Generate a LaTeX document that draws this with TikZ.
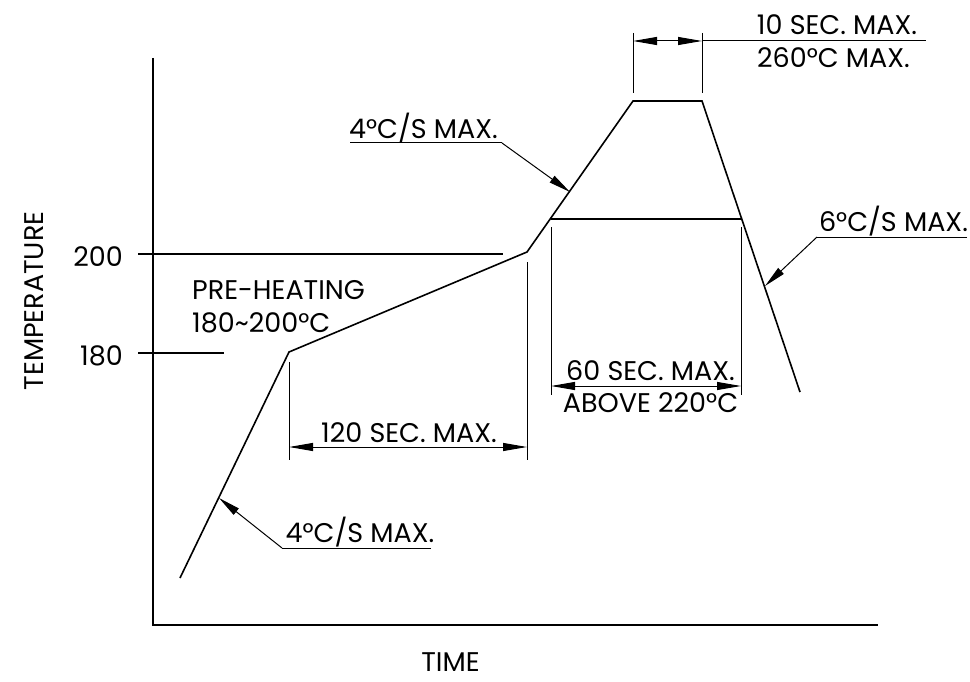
\documentclass[tikz,border=0pt]{standalone}
\usepackage{fontspec}
\setmainfont{Poppins}
\usetikzlibrary{arrows.meta}

\tikzset{
  curve/.style={line width=1.6pt, line join=miter},
  dim/.style={line width=1pt},
  dimarrow/.style={line width=1pt, {Triangle[length=24pt,width=8pt]}-{Triangle[length=24pt,width=8pt]}},
  leader/.style={line width=1pt, -{Triangle[length=22pt,width=8pt]}},
  lbl/.style={font=\fontsize{27}{27}\selectfont, inner sep=0pt, anchor=base},
}

\begin{document}
\begin{tikzpicture}[x=1pt, y=-1pt]
\useasboundingbox (0,0) rectangle (970,682);

% axes
\coordinate (o) at (153,625);
\coordinate (ytop) at (153,58);
\coordinate (xend) at (878,625);
\draw [line width=2pt] (ytop) -- (o) -- (xend);
\node [lbl] (time) at (450.5,671) {TIME};
\node [lbl, rotate=90] (temp) at (43,301) {TEMPERATURE};

% ticks
\coordinate (t200a) at (138,254);
\coordinate (t200b) at (503,254);
\coordinate (t180a) at (138,353);
\coordinate (t180b) at (224,353);
\draw [curve] (t200a) -- (t200b);
\draw [curve] (t180a) -- (t180b);
\node [lbl, anchor=base east] (l200) at (123,266) {200};
\node [lbl, anchor=base east] (l180) at (123,365) {180};

% profile
\coordinate (p0) at (180,578);
\coordinate (p1) at (289,352);
\coordinate (p2) at (527,252);
\coordinate (p3) at (551,219);
\coordinate (p4) at (633,101);
\coordinate (p5) at (702,101);
\coordinate (p6) at (741,219);
\coordinate (p7) at (800,392);
\draw [curve] (p0) -- (p1) -- (p2) -- (p4) -- (p5) -- (p7);
\draw [curve] (p3) -- (p6);

\node [lbl, anchor=base west] (pre) at (192,299) {PRE-HEATING};
\node [lbl, anchor=base west] (prerange) at (192,332) {180\textasciitilde 200°C};

% 120 sec
\draw [dim] (289,362) coordinate (d1a) -- (289,460);
\draw [dim] (527,262) coordinate (d1b) -- (527,460);
\draw [dimarrow] (289,447) coordinate (a1) -- (527,447) coordinate (b1);
\node [lbl] (sec120) at (409,442) {120 SEC. MAX.};

% 60 sec
\draw [dim] (551,227) -- (551,395);
\draw [dim] (741,227) -- (741,395);
\draw [dimarrow] (551,386) coordinate (a2) -- (741,386) coordinate (b2);
\node [lbl] (sec60) at (650.5,380) {60 SEC. MAX.};
\node [lbl] (above) at (650.5,412) {ABOVE 220°C};

% 10 sec
\draw [dim] (633,33) -- (633,93);
\draw [dim] (702,33) -- (702,93);
\coordinate (a3) at (633,41);
\coordinate (b3) at (702,41);
\coordinate (c3) at (926,41);
\draw [dimarrow] (a3) -- (b3);
\draw [dim] (b3) -- (c3);
\node [lbl] (sec10) at (837,35) {10 SEC. MAX.};
\node [lbl] (peak) at (833.5,68) {260°C MAX.};

% ramp up
\coordinate (u1) at (350,143);
\coordinate (u2) at (502,143);
\coordinate (u3) at (570,192);
\draw [dim] (u1) -- (u2);
\draw [leader] (u2) -- (u3);
\node [lbl] (rampup) at (423.5,139) {4°C/S MAX.};

% first ramp
\coordinate (r1) at (431,548);
\coordinate (r2) at (282,548);
\coordinate (r3) at (219,498);
\draw [dim] (r1) -- (r2);
\draw [leader] (r2) -- (r3);
\node [lbl] (rampstart) at (360,542) {4°C/S MAX.};

% cooling
\coordinate (c1) at (967,237);
\coordinate (c2) at (817,237);
\coordinate (c3x) at (765,286);
\draw [dim] (c1) -- (c2);
\draw [leader] (c2) -- (c3x);
\node [lbl] (cool) at (893.5,232) {6°C/S MAX.};

\end{tikzpicture}
\end{document}
